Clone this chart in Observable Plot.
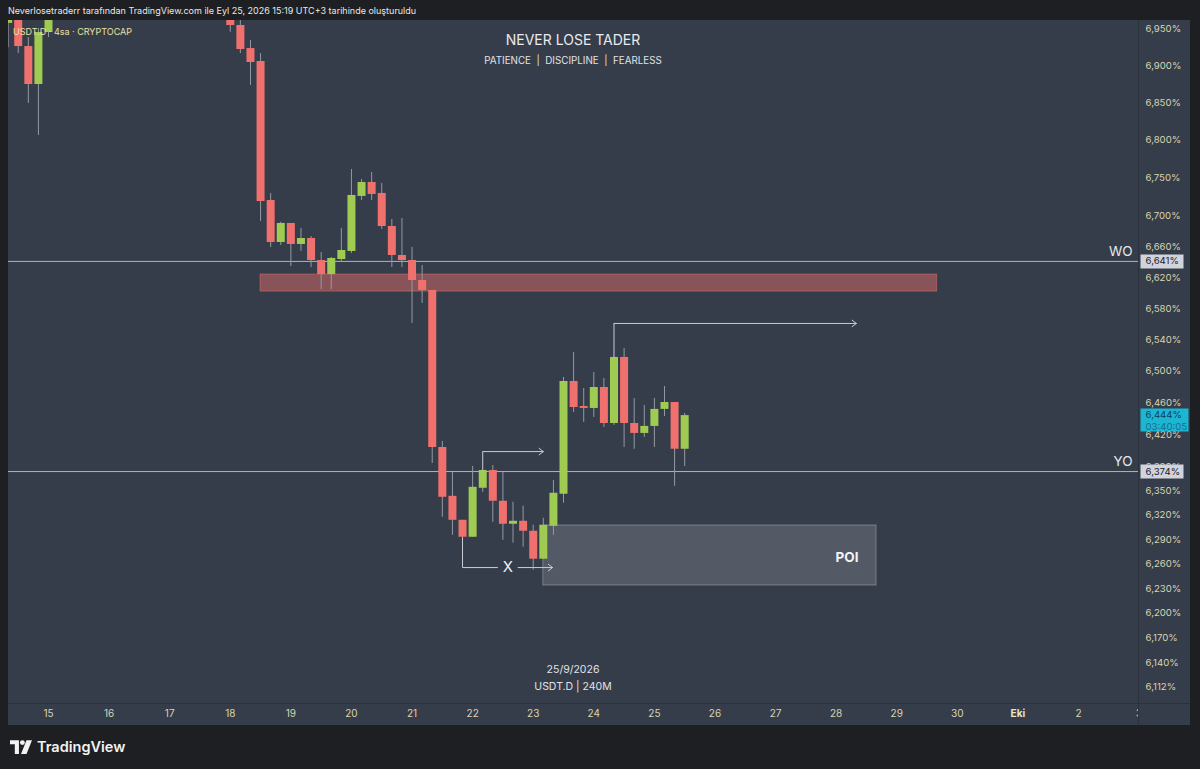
<!DOCTYPE html>
<html><head><meta charset="utf-8">
<script src="https://cdn.jsdelivr.net/npm/d3@7"></script>
<script src="https://cdn.jsdelivr.net/npm/@observablehq/plot@0.6"></script>
<style>
html,body{margin:0;padding:0;background:#1e1f22;width:1200px;height:769px;overflow:hidden;font-family:Inter,Roboto,"Noto Sans",sans-serif;}
#hdr{position:absolute;left:8px;top:5px;font-size:9px;color:#e8e8e8;white-space:nowrap;}
#pane{position:absolute;left:8px;top:20px;width:1182px;height:705px;background:#363d4a;overflow:hidden;}
#pane svg{position:absolute;left:0;top:0;}
.ov{position:absolute;white-space:nowrap;}
#title{left:0;width:1130px;top:11px;text-align:center;font-size:14px;color:#e9eaee;}
#sub{left:0;width:1130px;top:35px;text-align:center;font-size:9.8px;color:#e1e3e8;}
#legend{left:5px;top:6px;font-size:9px;color:#ece0a2;}
#wdate{left:0;width:1130px;top:643px;text-align:center;font-size:10.5px;color:#e1e3e8;}
#wsym{left:0;width:1130px;top:660px;text-align:center;font-size:10.5px;color:#e1e3e8;}
#vsep{left:1130px;top:0;width:1px;height:705px;background:#2c323d;}
#hsep{left:0;top:683px;width:1182px;height:1px;background:#2c323d;}
#corner{left:1131px;top:684px;width:51px;height:21px;background:#363d4a;}
#footer{position:absolute;left:10px;top:738px;display:flex;align-items:center;gap:5px;color:#f2f2f2;font-size:14.5px;font-weight:600;}
</style></head>
<body>
<div id="hdr">Neverlosetraderr tarafından TradingView.com ile Eyl 25, 2026 15:19 UTC+3 tarihinde oluşturuldu</div>
<div id="pane">
  <div id="chart"></div>
  <div class="ov" id="vsep"></div>
  <div class="ov" id="hsep"></div>
  <div class="ov" id="corner"></div>
  <div class="ov" id="legend">USDT.D · 4sa · CRYPTOCAP</div>
  <div class="ov" id="title">NEVER LOSE TADER</div>
  <div class="ov" id="sub">PATIENCE &nbsp;| &nbsp;DISCIPLINE &nbsp;| &nbsp;FEARLESS</div>
  <div class="ov" id="wdate">25/9/2026</div>
  <div class="ov" id="wsym">USDT.D | 240M</div>
</div>
<div id="footer"><svg width="22" height="14" viewBox="0 0 32 20"><path d="M0 0h13v20h-6V6H0z" fill="#f2f2f2"/><circle cx="18" cy="3.5" r="3.5" fill="#f2f2f2"/><path d="M24 0h8l-8 20h-8z" fill="#f2f2f2"/></svg><span>TradingView</span></div>
<script>
// ---- candle data (4h bars, UTC+3 local times) ----
const times = ["2026-09-14T08:00","2026-09-14T12:00","2026-09-14T16:00","2026-09-14T20:00","2026-09-15T00:00",
"2026-09-18T00:00","2026-09-18T04:00","2026-09-18T08:00","2026-09-18T12:00","2026-09-18T16:00","2026-09-18T20:00",
"2026-09-19T00:00","2026-09-19T04:00","2026-09-19T08:00","2026-09-19T12:00","2026-09-19T16:00","2026-09-19T20:00",
"2026-09-20T00:00","2026-09-20T04:00","2026-09-20T08:00","2026-09-20T12:00","2026-09-20T16:00","2026-09-20T20:00",
"2026-09-21T00:00","2026-09-21T04:00","2026-09-21T08:00","2026-09-21T12:00","2026-09-21T16:00","2026-09-21T20:00",
"2026-09-22T00:00","2026-09-22T04:00","2026-09-22T08:00","2026-09-22T12:00","2026-09-22T16:00","2026-09-22T20:00",
"2026-09-23T00:00","2026-09-23T04:00","2026-09-23T08:00","2026-09-23T12:00","2026-09-23T16:00","2026-09-23T20:00",
"2026-09-24T00:00","2026-09-24T04:00","2026-09-24T08:00","2026-09-24T12:00","2026-09-24T16:00","2026-09-24T20:00",
"2026-09-25T00:00","2026-09-25T04:00","2026-09-25T08:00","2026-09-25T12:00"];
const open  = [6.957,6.975,6.9256,6.8744,6.9446, 6.965,6.9541,6.9229,6.9053,6.7205,6.6656, 6.6904,6.6630,6.6708,6.6422,6.6240,6.6435, 6.6539,6.7258,6.7441,6.7297,6.6864,6.6487, 6.6422,6.6163,6.6034,6.4040,6.3432,6.3136, 6.2927,6.3532,6.3753,6.3371,6.3087,6.3124, 6.3001,6.2658,6.3062,6.3457,6.4871,6.4555, 6.4530,6.4795,6.4341,6.5176,6.4341,6.4216, 6.4304,6.4518,6.4605,6.4018];
const high  = [6.995,6.985,6.9378,6.950,7.000, 6.975,6.9622,6.9337,6.9161,6.7297,6.6920, 6.6904,6.6839,6.6734,6.6526,6.6461,6.6839, 6.7613,6.7481,6.7573,6.7428,6.6956,6.6969, 6.6591,6.6357,6.6034,6.4115,6.3728,6.3136, 6.3803,6.3753,6.3815,6.3728,6.3359,6.3310, 6.3075,6.3161,6.3629,6.4922,6.5239,6.4782, 6.4985,6.4909,6.5176,6.5290,6.4656,6.4568, 6.4656,6.4807,6.4605,6.4467];
const low   = [6.924,6.9161,6.8490,6.8063,6.9378, 6.9450,6.9161,6.8731,6.6930,6.6591,6.6617, 6.6344,6.6539,6.6331,6.6046,6.6046,6.6409, 6.6513,6.7205,6.7205,6.6825,6.6331,6.6331, 6.5610,6.5867,6.3840,6.3173,6.2951,6.2915, 6.2927,6.3482,6.3111,6.2890,6.2854,6.2805, 6.2523,6.2658,6.2951,6.3347,6.4479,6.4354, 6.4416,6.4291,6.4316,6.4040,6.4018,6.4166, 6.4040,6.4429,6.3557,6.3803];
const close = [6.985,6.9256,6.8744,6.9446,6.990, 6.9541,6.9216,6.9040,6.7192,6.6656,6.6904, 6.6630,6.6708,6.6422,6.6240,6.6448,6.6552, 6.7271,6.7441,6.7284,6.6864,6.6487,6.6422, 6.6163,6.6034,6.4040,6.3420,6.3136,6.2927, 6.3544,6.3753,6.3371,6.3087,6.3124,6.3001, 6.2658,6.3075,6.3470,6.4871,6.4542,6.4530, 6.4795,6.4341,6.5176,6.4341,6.4216,6.4304, 6.4518,6.4605,6.4018,6.444];

// ---- axes ----
const yTicks = [6.95,6.9,6.85,6.8,6.75,6.7,6.66,6.62,6.58,6.54,6.5,6.46,6.42,6.38,6.35,6.32,6.29,6.26,6.23,6.2,6.17,6.14,6.112];
const xTickDates = ["2026-09-15","2026-09-16","2026-09-17","2026-09-18","2026-09-19","2026-09-20","2026-09-21","2026-09-22","2026-09-23","2026-09-24","2026-09-25","2026-09-26","2026-09-27","2026-09-28","2026-09-29","2026-09-30","2026-10-01","2026-10-02","2026-10-03"];
const xTickLabels = ["15","16","17","18","19","20","21","22","23","24","25","26","27","28","29","30","Eki","2","3"];

// ---- drawings ----
const levelNames = ["WO","YO"];
const levelValues = [6.641, 6.374];
const lastPrice = 6.444;
const lastCountdown = "03:40:05";
const zoneX = ["2026-09-18T12:00","2026-09-29T16:00"];
const zoneY = [6.602, 6.624];
const poiX = ["2026-09-23T04:00","2026-09-28T16:00"];
const poiY = [6.2337, 6.3072];
const poiLabelPos = ["2026-09-28T08:50", 6.268];
const bracketStart = [["2026-09-24T08:00",6.5176],["2026-09-22T04:00",6.3753],["2026-09-21T20:00",6.2927]];
const bracketCorner = [["2026-09-24T08:00",6.5610],["2026-09-22T04:00",6.3989],["2026-09-21T20:00",6.2556]];
const bracketEnd = [["2026-09-28T08:00",6.5610],["2026-09-23T04:00",6.3989],["2026-09-22T10:00",6.2556]];
const xArrow = [["2026-09-22T18:00","2026-09-23T07:40",6.2556]];
const xLabel = ["2026-09-22T14:00",6.2556,"X"];

const D = s => new Date(s + (s.length === 10 ? "T00:00Z" : "Z"));
const candles = times.map((t,i)=>({date:D(t),open:open[i],high:high[i],low:low[i],close:close[i]}));
const RED = "#f0706d", GREEN = "#9fcb52", WICK = "#9499a2", AX = "#d8d4ae";
const fmt = v => d3.format(".3f")(v).replace(".", ",") + "%";

const links = bracketStart.map((s,i)=>({x1:D(s[0]),y1:s[1],x2:D(bracketCorner[i][0]),y2:bracketCorner[i][1]}));
const arrows = bracketCorner.slice(0,2).map((c,i)=>({x1:D(c[0]),y1:c[1],x2:D(bracketEnd[i][0]),y2:bracketEnd[i][1]}))
  .concat(xArrow.map(a=>({x1:D(a[0]),y1:a[2],x2:D(a[1]),y2:a[2]})));
const hsegs = [{x1:D(bracketCorner[2][0]),y1:bracketCorner[2][1],x2:D(bracketEnd[2][0]),y2:bracketEnd[2][1]}];

const boxSym = (w, top, h) => ({draw(ctx){ctx.moveTo(2,top);ctx.lineTo(2+w,top);ctx.lineTo(2+w,top+h);ctx.lineTo(2,top+h);ctx.closePath();}});

const chart = Plot.plot({
  width: 1182, height: 705,
  marginLeft: 0, marginRight: 52, marginTop: 0, marginBottom: 22,
  style: {background: "transparent", fontFamily: "Inter, Roboto, sans-serif", color: AX},
  x: {type: "utc", domain: [D("2026-09-14T08:09"), D("2026-10-02T23:46")], axis: null},
  y: {type: "log", domain: [6.0917, 6.9609], axis: null},
  color: {type: "identity"},
  marks: [
    Plot.rect([0], {x1: () => D(zoneX[0]), x2: () => D(zoneX[1]), y1: () => zoneY[0], y2: () => zoneY[1], fill: RED, fillOpacity: 0.45, stroke: RED, strokeOpacity: 0.45}),
    Plot.rect([0], {x1: () => D(poiX[0]), x2: () => D(poiX[1]), y1: () => poiY[0], y2: () => poiY[1], fill: "#ffffff", fillOpacity: 0.15, stroke: "#ffffff", strokeOpacity: 0.28}),
    Plot.ruleY(levelValues, {stroke: "#aeb2bb", strokeWidth: 1}),
    Plot.ruleX(candles, {x: "date", y1: "low", y2: "high", stroke: WICK, strokeWidth: 1, clip: true}),
    Plot.ruleX(candles, {x: "date", y1: "open", y2: "close", stroke: d => d.close >= d.open ? GREEN : RED, strokeWidth: 8, clip: true}),
    Plot.link(links, {x1: "x1", y1: "y1", x2: "x2", y2: "y2", stroke: "#c9ccd3", strokeWidth: 1}),
    Plot.link(hsegs, {x1: "x1", y1: "y1", x2: "x2", y2: "y2", stroke: "#c9ccd3", strokeWidth: 1}),
    Plot.arrow(arrows, {x1: "x1", y1: "y1", x2: "x2", y2: "y2", stroke: "#c9ccd3", strokeWidth: 1, headLength: 8, headAngle: 75}),
    Plot.text([xLabel], {x: d => D(d[0]), y: d => d[1], text: d => d[2], fill: "#eef0f3", fontSize: 15}),
    Plot.text([poiLabelPos], {x: d => D(d[0]), y: d => d[1], text: () => "POI", textAnchor: "end", fill: "#f2f3f5", fontSize: 13.5, fontWeight: "bold"}),
    Plot.text(levelNames, {y: (d,i) => levelValues[i], text: d => d, frameAnchor: "right", dx: -6, dy: -10, textAnchor: "end", fill: "#e6e8ec", fontSize: 13.5}),
    // price scale
    Plot.text(yTicks, {y: d => d, text: fmt, frameAnchor: "right", dx: 7, textAnchor: "start", fill: AX, fontSize: 9.6}),
    Plot.dot(levelValues, {y: d => d, frameAnchor: "right", symbol: boxSym(43, -7, 14), fill: "#d1d4dc", stroke: "none"}),
    Plot.text(levelValues, {y: d => d, text: fmt, frameAnchor: "right", dx: 7, textAnchor: "start", fill: "#1e222d", fontSize: 9.6}),
    Plot.dot([lastPrice], {y: d => d, frameAnchor: "right", symbol: boxSym(48, -7, 23), fill: "#1db6d2", stroke: "none"}),
    Plot.text([lastPrice], {y: d => d, text: fmt, frameAnchor: "right", dx: 7, dy: -1, textAnchor: "start", fill: "#0d3e5c", fontSize: 9.6}),
    Plot.text([lastPrice], {y: d => d, text: () => lastCountdown, frameAnchor: "right", dx: 7, dy: 11, textAnchor: "start", fill: "#1a6d8c", fontSize: 9.6}),
    // time scale
    Plot.text(xTickDates.filter((d,i) => xTickLabels[i] !== "Eki"), {x: d => D(d), text: d => xTickLabels[xTickDates.indexOf(d)], frameAnchor: "bottom", dy: 13, fill: AX, fontSize: 10}),
    Plot.text(xTickDates.filter((d,i) => xTickLabels[i] === "Eki"), {x: d => D(d), text: d => xTickLabels[xTickDates.indexOf(d)], frameAnchor: "bottom", dy: 13, fill: "#ece6c0", fontSize: 10, fontWeight: "bold"})
  ]
});
document.getElementById("chart").appendChild(chart);
</script>
</body></html>
